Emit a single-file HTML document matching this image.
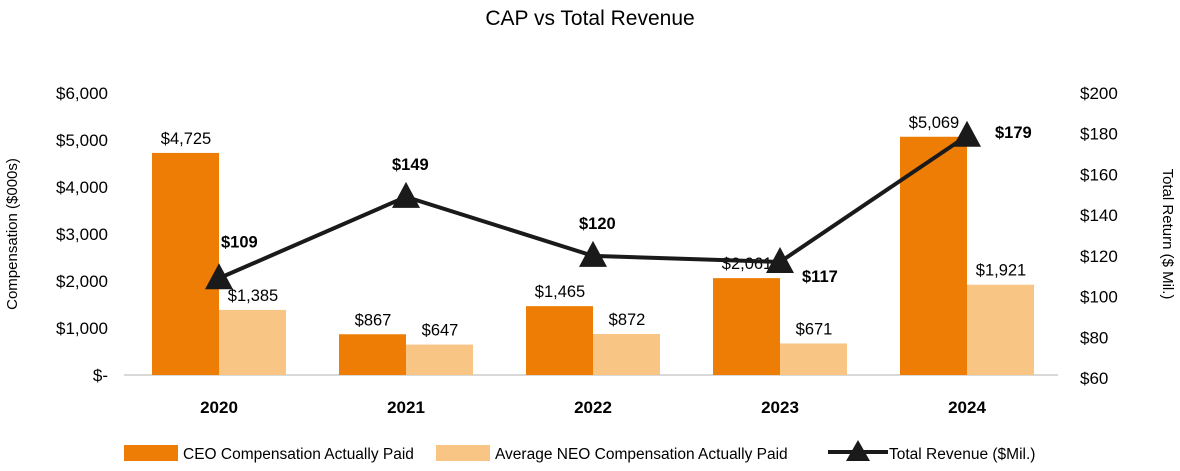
<!DOCTYPE html>
<html><head><meta charset="utf-8"><style>
body{margin:0;background:#fff;font-family:"Liberation Sans",sans-serif}
svg text{font-family:"Liberation Sans",sans-serif}
</style></head><body>
<svg width="1180" height="466" viewBox="0 0 1180 466">
<text x="590" y="25" text-anchor="middle" font-size="21" fill="#000">CAP vs Total Revenue</text>
<g id="leftTicks"></g><g id="rightTicks"></g>
<line x1="124" x2="1058" y1="375" y2="375" stroke="#d9d9d9" stroke-width="2"/>
<g id="bars"></g><g id="line"></g><g id="xlabels"></g>
<text transform="translate(17,234) rotate(-90)" text-anchor="middle" font-size="15">Compensation ($000s)</text>
<text transform="translate(1163,234) rotate(90)" text-anchor="middle" font-size="15">Total Return ($ Mil.)</text>
<g>
<rect x="124" y="445" width="54" height="16" fill="#ed7d05"/>
<text x="183" y="459" font-size="15.5">CEO Compensation Actually Paid</text>
<rect x="436" y="445" width="54" height="16" fill="#f8c585"/>
<text x="495" y="459" font-size="15.5">Average NEO Compensation Actually Paid</text>
<line x1="828" x2="888" y1="452" y2="452" stroke="#1a1a1a" stroke-width="4"/>
<polygon points="858,440 870,461 846,461" fill="#1a1a1a"/>
<text x="889" y="459" font-size="15.5">Total Revenue ($Mil.)</text>
</g>
</svg>
<script>
const categories=["2020","2021","2022","2023","2024"];
const ceoValues=[4725,867,1465,2061,5069];
const neoValues=[1385,647,872,671,1921];
const revenueValues=[109,149,120,117,179];
const leftTickValues=[0,1000,2000,3000,4000,5000,6000];
const leftTickLabels=["$-","$1,000","$2,000","$3,000","$4,000","$5,000","$6,000"];
const rightTickValues=[60,80,100,120,140,160,180,200];
const ns="http://www.w3.org/2000/svg";
const yL=v=>375-v*(282/6000);
const yR=v=>378-(v-60)*(285/140);
const xC=i=>219+i*187;
const fmt=v=>"$"+v.toLocaleString("en-US");
function mk(tag,attrs,parent,text){const e=document.createElementNS(ns,tag);for(const k in attrs)e.setAttribute(k,attrs[k]);if(text!==undefined)e.textContent=text;document.getElementById(parent).appendChild(e);return e;}
leftTickValues.forEach((v,i)=>{const t=mk("text",{x:108,y:yL(v)+6,"text-anchor":"end","font-size":17},"leftTicks",leftTickLabels[i]);

});
rightTickValues.forEach(v=>{const t=mk("text",{x:1080,y:yR(v)+6,"font-size":17},"rightTicks","$"+v);

});
categories.forEach((c,i)=>{
const x=xC(i);
const b1=mk("rect",{x:x-67,y:yL(ceoValues[i]),width:67,height:375-yL(ceoValues[i]),fill:"#ed7d05"},"bars");


const b2=mk("rect",{x:x,y:yL(neoValues[i]),width:67,height:375-yL(neoValues[i]),fill:"#f8c585"},"bars");


const l1=mk("text",{x:x-33,y:yL(ceoValues[i])-9,"text-anchor":"middle","font-size":16.5},"bars",fmt(ceoValues[i]));


const l2=mk("text",{x:x+34,y:yL(neoValues[i])-9,"text-anchor":"middle","font-size":16.5},"bars",fmt(neoValues[i]));


const xl=mk("text",{x:x,y:413,"text-anchor":"middle","font-size":17,"font-weight":"bold"},"xlabels",c);


});
const pts=revenueValues.map((v,i)=>[xC(i),yR(v)]);
const pl=mk("polyline",{points:pts.map(p=>p.join(",")).join(" "),fill:"none",stroke:"#1a1a1a","stroke-width":4},"line");


const offs=[[2,-31],[-14,-27],[-14,-27],[22,20],[28,2]];
revenueValues.forEach((v,i)=>{
const [x,y]=pts[i];
const m=mk("polygon",{points:`${x},${y-15} ${x+14},${y+11} ${x-14},${y+11}`,fill:"#1a1a1a"},"line");


const t=mk("text",{x:x+offs[i][0],y:y+offs[i][1],"font-size":16.5,"font-weight":"bold"},"line","$"+v);


});
</script>
</body></html>
